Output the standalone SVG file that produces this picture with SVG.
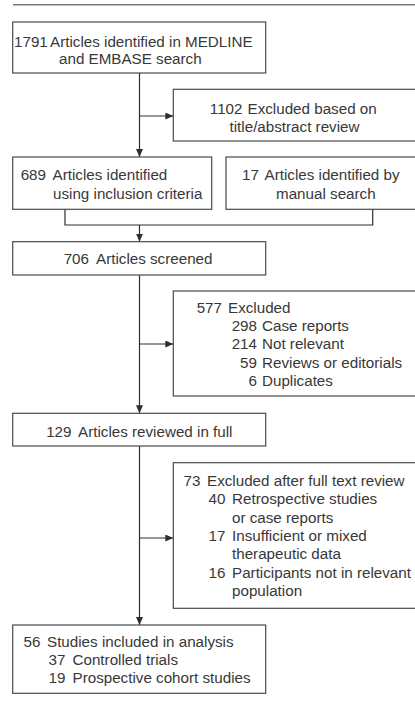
<svg xmlns="http://www.w3.org/2000/svg" width="415" height="703" viewBox="0 0 415 703">
<style>
  .box { fill: #ffffff; stroke: #4a4a4a; stroke-width: 1.2; }
  .ln { fill: none; stroke: #2e2e2e; stroke-width: 1.2; }
  text { font-family: "Liberation Sans", Arial, sans-serif; font-size: 15.2px; fill: #383838; }
  .n { text-anchor: end; }
</style>
<defs>
  <marker id="arr" markerUnits="userSpaceOnUse" markerWidth="9" markerHeight="7" refX="8" refY="3.5" orient="auto">
    <path d="M0,0 L8,3.5 L0,7 z" fill="#2e2e2e"/>
  </marker>
</defs>
<rect width="415" height="703" fill="#ffffff"/>
<line x1="13" y1="4.8" x2="415" y2="4.8" stroke="#7a7a7a" stroke-width="1.6"/>

<g id="connectors">
  <line class="ln" x1="139.5" y1="73" x2="139.5" y2="157" marker-end="url(#arr)"/>
  <line class="ln" x1="139.5" y1="116" x2="173.3" y2="116" marker-end="url(#arr)"/>
  <polyline class="ln" points="65,209.3 65,225 372.7,225 372.7,209.3"/>
  <line class="ln" x1="139.5" y1="225" x2="139.5" y2="241.7" marker-end="url(#arr)"/>
  <line class="ln" x1="139.5" y1="275" x2="139.5" y2="413.3" marker-end="url(#arr)"/>
  <line class="ln" x1="139.5" y1="344" x2="173.3" y2="344" marker-end="url(#arr)"/>
  <line class="ln" x1="139.5" y1="446" x2="139.5" y2="625" marker-end="url(#arr)"/>
  <line class="ln" x1="139.5" y1="538" x2="173.3" y2="538" marker-end="url(#arr)"/>
</g>

<g id="n1791">
  <rect class="box" x="12.7" y="22" width="253" height="51"/>
  <text x="14" y="46.5">1791</text>
  <text x="50" y="46.5">Articles identified in MEDLINE</text>
  <text x="59" y="64">and EMBASE search</text>
</g>

<g id="n1102">
  <rect class="box" x="173.3" y="89.3" width="250" height="51.7"/>
  <text class="n" x="242.5" y="113.5">1102</text>
  <text x="247.5" y="113.5">Excluded based on</text>
  <text x="229.5" y="132">title/abstract review</text>
</g>

<g id="n689">
  <rect class="box" x="12.7" y="157" width="199" height="52.3"/>
  <text class="n" x="46" y="180">689</text>
  <text x="52.5" y="180">Articles identified</text>
  <text x="53" y="198.5">using inclusion criteria</text>
</g>

<g id="n17">
  <rect class="box" x="226" y="157" width="200" height="52.3"/>
  <text class="n" x="259" y="180">17</text>
  <text x="264.5" y="180">Articles identified by</text>
  <text x="276" y="198.5">manual search</text>
</g>

<g id="n706">
  <rect class="box" x="12.7" y="241.7" width="253" height="33.3"/>
  <text class="n" x="89" y="264">706</text>
  <text x="96" y="264">Articles screened</text>
</g>

<g id="n577">
  <rect class="box" x="173.3" y="291" width="250" height="105"/>
  <text class="n" x="222" y="312.7">577</text>
  <text x="228" y="312.7">Excluded</text>
  <text class="n" x="257" y="331">298</text>
  <text x="262" y="331">Case reports</text>
  <text class="n" x="257" y="349.3">214</text>
  <text x="262" y="349.3">Not relevant</text>
  <text class="n" x="257" y="367.6">59</text>
  <text x="262" y="367.6">Reviews or editorials</text>
  <text class="n" x="257" y="386">6</text>
  <text x="262" y="386">Duplicates</text>
</g>

<g id="n129">
  <rect class="box" x="12.7" y="413.3" width="253" height="32.7"/>
  <text class="n" x="71.5" y="436.5">129</text>
  <text x="78" y="436.5">Articles reviewed in full</text>
</g>

<g id="n73">
  <rect class="box" x="173.3" y="462.7" width="250" height="145.6"/>
  <text class="n" x="200.5" y="486">73</text>
  <text x="207" y="486">Excluded after full text review</text>
  <text class="n" x="225.5" y="504.3">40</text>
  <text x="232" y="504.3">Retrospective studies</text>
  <text x="232" y="522.6">or case reports</text>
  <text class="n" x="225.5" y="541">17</text>
  <text x="232" y="541">Insufficient or mixed</text>
  <text x="232" y="559.3">therapeutic data</text>
  <text class="n" x="225.5" y="577.6">16</text>
  <text x="232" y="577.6">Participants not in relevant</text>
  <text x="232" y="596">population</text>
</g>

<g id="n56">
  <rect class="box" x="12.7" y="625" width="253" height="68.3"/>
  <text class="n" x="40.5" y="646.5">56</text>
  <text x="47" y="646.5">Studies included in analysis</text>
  <text class="n" x="65.5" y="664.8">37</text>
  <text x="72.5" y="664.8">Controlled trials</text>
  <text class="n" x="65.5" y="683">19</text>
  <text x="72.5" y="683">Prospective cohort studies</text>
</g>
</svg>
